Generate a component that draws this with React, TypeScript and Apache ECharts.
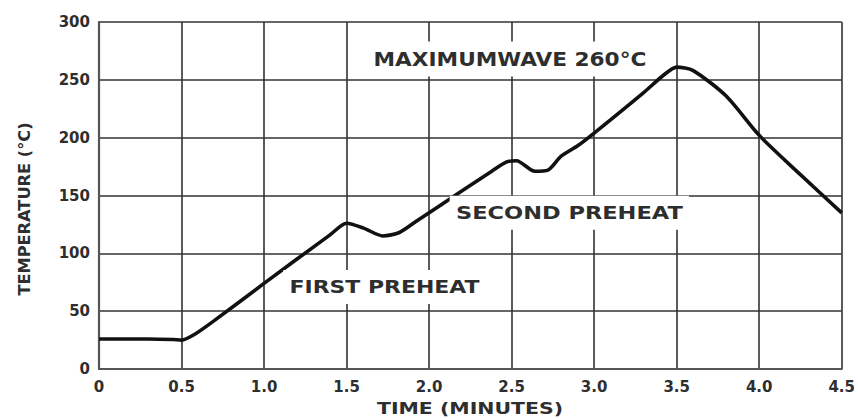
import React, { useEffect, useRef } from "react";
import * as echarts from "echarts";

const timeMinutes = [0, 0.3, 0.45, 0.5, 0.58, 0.7, 1.0, 1.4, 1.5, 1.6, 1.72, 1.82, 1.92, 2.2, 2.38, 2.47, 2.53, 2.64, 2.72, 2.8, 2.9, 3.0, 3.3, 3.42, 3.5, 3.6, 3.8, 4.0, 4.25, 4.5];
const temperature = [26, 26, 25.5, 25, 30, 42, 74, 116, 126, 122, 115, 118, 127.5, 154, 171, 179, 180, 171, 172, 184, 193, 204, 239, 254, 261, 258, 236, 202, 168, 135];

const xTicks = ["0", "0.5", "1.0", "1.5", "2.0", "2.5", "3.0", "3.5", "4.0", "4.5"];
const yTicks = ["0", "50", "100", "150", "200", "250", "300"];

const annotationTexts = ["MAXIMUMWAVE 260°C", "SECOND PREHEAT", "FIRST PREHEAT"];
const annotationAt = [
  [2.49, 268],
  [2.85, 135],
  [1.73, 71],
];
const annotationFont = [19, 18, 18];
const annotationStretch = [1.14, 1.25, 1.22];

const FONT = "'DejaVu Sans', sans-serif";
const TEXT_COLOR = "#2e2e2e";

export default function App() {
  const ref = useRef<HTMLDivElement>(null);
  useEffect(() => {
    if (!ref.current) return;
    const chart = echarts.init(ref.current, undefined, { renderer: "svg" });
    const option: any = {
      animation: false,
      backgroundColor: "#ffffff",
      grid: { left: 99, right: 10.5, top: 22, bottom: 49, containLabel: false },
      xAxis: {
        type: "value",
        min: 0,
        max: 4.5,
        interval: 0.5,
        axisLine: { show: true, lineStyle: { color: "#555", width: 2.2 } },
        axisTick: { show: false },
        splitLine: { show: true, lineStyle: { color: "#333", width: 1.6 } },
        axisLabel: {
          margin: 10,
          color: TEXT_COLOR,
          fontFamily: FONT,
          fontWeight: "bold",
          fontSize: 15,
          formatter: (v: number) => xTicks[Math.round(v / 0.5)] ?? String(v),
        },
      },
      yAxis: {
        type: "value",
        min: 0,
        max: 300,
        interval: 50,
        axisLine: { show: true, lineStyle: { color: "#555", width: 2.2 } },
        axisTick: { show: false },
        splitLine: { show: true, lineStyle: { color: "#333", width: 1.6 } },
        axisLabel: {
          margin: 9,
          color: TEXT_COLOR,
          fontFamily: FONT,
          fontWeight: "bold",
          fontSize: 15,
          formatter: (v: number) => yTicks[Math.round(v / 50)] ?? String(v),
        },
      },
      series: [
        {
          type: "line",
          data: timeMinutes.map((t, i) => [t, temperature[i]]),
          smooth: 0.25,
          symbol: "none",
          lineStyle: { color: "#111", width: 3.6 },
          z: 5,
        },
      ],
    };
    chart.setOption(option);

    const annotations = annotationTexts.map((text, i) => {
      const p = chart.convertToPixel({ gridIndex: 0 }, annotationAt[i]) as number[];
      return {
        type: "text",
        x: p[0],
        y: p[1],
        scaleX: annotationStretch[i],
        z: 100,
        style: {
          text,
          font: `bold ${annotationFont[i]}px ${FONT}`,
          fill: TEXT_COLOR,
          align: "center",
          verticalAlign: "middle",
          backgroundColor: "#ffffff",
          padding: [8, 5],
        },
      };
    });

    chart.setOption({
      graphic: [
        ...annotations,
        {
          type: "text",
          x: 25,
          y: 209,
          rotation: Math.PI / 2,
          scaleX: 1.08,
          z: 100,
          style: {
            text: "TEMPERATURE (°C)",
            font: `bold 15px ${FONT}`,
            fill: TEXT_COLOR,
            align: "center",
            verticalAlign: "middle",
          },
        },
        {
          type: "text",
          x: 470,
          y: 408,
          scaleX: 1.28,
          z: 100,
          style: {
            text: "TIME (MINUTES)",
            font: `bold 16px ${FONT}`,
            fill: TEXT_COLOR,
            align: "center",
            verticalAlign: "middle",
          },
        },
      ],
    });

    return () => chart.dispose();
  }, []);
  return <div ref={ref} style={{ width: 858, height: 418, position: "absolute", left: 0, top: 0 }} />;
}
